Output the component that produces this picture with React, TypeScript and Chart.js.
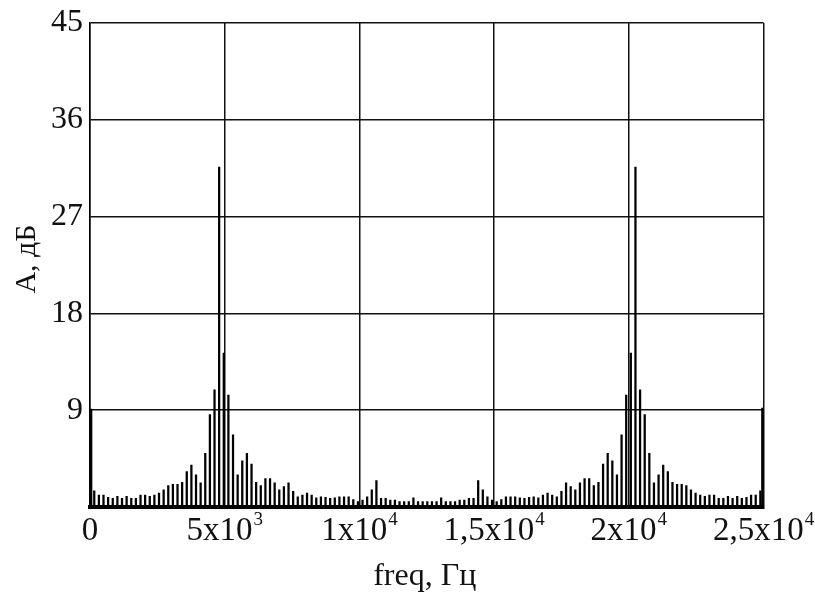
import React, { useEffect, useRef } from "react";
import { Chart, registerables } from "chart.js";

Chart.register(...registerables);

// FFT bin grid (Hz): first bin and bin spacing
const BIN_START_HZ = 158;
const BIN_STEP_HZ = 171.7;

// Amplitudes (dB) of the spectral lines
const AMPLITUDES: number[] = [
  1.5, 1.1, 1.1, 0.9, 0.8, 1.0, 0.8, 1.0, 0.8, 0.8,
  1.1, 1.1, 1.0, 1.1, 1.3, 1.6, 2.0, 2.1, 2.1, 2.3,
  3.3, 3.9, 3.0, 2.25, 5.0, 8.6, 10.9, 31.6, 14.3, 10.4,
  6.7, 3.0, 4.3, 5.0, 4.0, 2.3, 2.0, 2.65, 2.65, 2.25,
  1.6, 1.9, 2.25, 1.45, 0.95, 1.1, 1.3, 1.1, 0.85, 0.95,
  0.9, 0.8, 0.85, 0.95, 0.95, 0.95, 0.7, 0.5, 0.65, 0.95,
  1.6, 2.45, 0.8, 0.8, 0.65, 0.65, 0.5, 0.5, 0.5, 0.85,
  0.5, 0.5, 0.5, 0.5, 0.5, 0.85, 0.5, 0.5, 0.5, 0.65,
  0.65, 0.8, 0.8, 2.45, 1.6, 0.95, 0.65, 0.5, 0.7, 0.95,
  0.95, 0.95, 0.85, 0.8, 0.9, 0.95, 0.85, 1.1, 1.3, 1.1,
  0.95, 1.45, 2.25, 1.9, 1.6, 2.25, 2.65, 2.65, 2.0, 2.3,
  4.0, 5.0, 4.3, 3.0, 6.7, 10.4, 14.3, 31.6, 10.9, 8.6,
  5.0, 2.25, 3.0, 3.9, 3.3, 2.3, 2.1, 2.1, 2.0, 1.6,
  1.3, 1.1, 1.0, 1.1, 1.1, 0.8, 0.8, 1.0, 0.8, 1.0,
  0.8, 0.9, 1.1, 1.1, 1.5,
];

// Components at the band edges
const EDGE_FREQS: number[] = [0, 25000];
const EDGE_AMPS: number[] = [9.1, 9.2];

const X_TICK_VALUES: number[] = [0, 5000, 10000, 15000, 20000, 25000];
const X_TICK_BASES: string[] = ["0", "5x10", "1x10", "1,5x10", "2x10", "2,5x10"];
const X_TICK_EXPONENTS: string[] = ["", "3", "4", "4", "4", "4"];
const Y_TICK_VALUES: number[] = [0, 9, 18, 27, 36, 45];
const Y_TICK_LABELS: string[] = ["", "9", "18", "27", "36", "45"];

const X_TITLE = "freq, Гц";
const Y_TITLE = "A, дБ";

const FONT_FAMILY = "'Liberation Serif', 'Times New Roman', 'DejaVu Serif', serif";

export default function App() {
  const ref = useRef<HTMLCanvasElement | null>(null);

  useEffect(() => {
    if (!ref.current) return;
    const lines = AMPLITUDES.map((a, i) => ({ x: BIN_START_HZ + i * BIN_STEP_HZ, y: a }));
    const edges = EDGE_FREQS.map((f, i) => ({ x: f, y: EDGE_AMPS[i] }));

    const labelPlugin = {
      id: "axisLabels",
      afterDraw(chart: any) {
        const ctx = chart.ctx;
        const area = chart.chartArea;
        const xs = chart.scales.x;
        ctx.save();
        ctx.fillStyle = "#111";
        ctx.textBaseline = "alphabetic";
        // x tick labels with superscript exponents
        const baseFont = `33px ${FONT_FAMILY}`;
        const expFont = `19px ${FONT_FAMILY}`;
        X_TICK_VALUES.forEach((v, i) => {
          const px = xs.getPixelForValue(v);
          ctx.font = baseFont;
          const wb = ctx.measureText(X_TICK_BASES[i]).width;
          ctx.font = expFont;
          const we = X_TICK_EXPONENTS[i] ? ctx.measureText(X_TICK_EXPONENTS[i]).width + 1 : 0;
          const start = px - (wb + we) / 2;
          ctx.textAlign = "left";
          ctx.font = baseFont;
          ctx.fillText(X_TICK_BASES[i], start, area.bottom + 33);
          if (X_TICK_EXPONENTS[i]) {
            ctx.font = expFont;
            ctx.fillText(X_TICK_EXPONENTS[i], start + wb + 1, area.bottom + 18);
          }
        });
        // axis titles
        ctx.textAlign = "center";
        ctx.font = `32px ${FONT_FAMILY}`;
        ctx.fillText(X_TITLE, (area.left + area.right) / 2 - 2, 585);
        ctx.translate(35, (area.top + area.bottom) / 2 - 6);
        ctx.rotate(-Math.PI / 2);
        ctx.font = `30px ${FONT_FAMILY}`;
        ctx.fillText(Y_TITLE, 0, 0);
        ctx.restore();
      },
    };

    const chart = new Chart(ref.current, {
      type: "bar",
      data: {
        datasets: [
          {
            data: lines as any,
            backgroundColor: "#000",
            barThickness: 1.6,
            grouped: false,
          } as any,
          {
            data: edges as any,
            backgroundColor: "#000",
            barThickness: 4,
            grouped: false,
          } as any,
        ],
      },
      options: {
        responsive: false,
        animation: false,
        layout: { padding: { left: 0, top: 23, right: 51.5, bottom: 0 } },
        plugins: {
          legend: { display: false },
          tooltip: { enabled: false },
        },
        scales: {
          x: {
            type: "linear",
            min: 0,
            max: 25000,
            offset: false,
            afterBuildTicks: (scale: any) => {
              scale.ticks = X_TICK_VALUES.map((v) => ({ value: v }));
            },
            afterFit: (scale: any) => {
              scale.height = 92;
              scale.paddingLeft = 0;
              scale.paddingRight = 0;
            },
            grid: { color: "#111", lineWidth: 1.5, drawTicks: false, offset: false },
            border: { color: "#000", width: 4 },
            ticks: { display: false },
          },
          y: {
            min: 0,
            max: 45,
            afterBuildTicks: (scale: any) => {
              scale.ticks = Y_TICK_VALUES.map((v) => ({ value: v }));
            },
            afterFit: (scale: any) => {
              scale.width = 90;
              scale.paddingTop = 0;
              scale.paddingBottom = 0;
            },
            grid: { color: "#111", lineWidth: 1.5, drawTicks: false },
            border: { color: "#000", width: 1.5 },
            ticks: {
              color: "#111",
              padding: 7,
              font: { family: FONT_FAMILY, size: 32 },
              callback: (_v: any, i: number) => Y_TICK_LABELS[i],
            },
          },
        },
      },
      plugins: [labelPlugin],
    });
    return () => chart.destroy();
  }, []);

  return (
    <canvas
      ref={ref}
      width={815}
      height={599}
      style={{ position: "absolute", left: 0, top: 0, display: "block", background: "#fff" }}
    />
  );
}
